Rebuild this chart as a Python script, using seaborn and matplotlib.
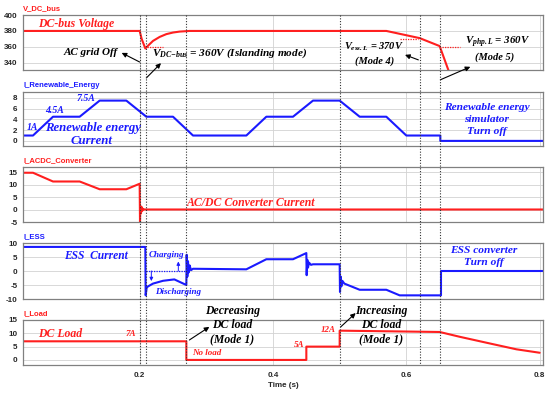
import matplotlib
matplotlib.use("Agg")
import matplotlib.pyplot as plt
import seaborn as sns
from matplotlib.lines import Line2D
from matplotlib.transforms import blended_transform_factory

# ---------------- data ----------------
panel_titles = ["V_DC_bus", "I_Renewable_Energy", "I_ACDC_Converter", "I_ESS", "I_Load"]

t_vdc = [0.025, 0.200, 0.203, 0.2085, 0.212, 0.220, 0.230, 0.240, 0.250, 0.260, 0.275,
         0.570, 0.620, 0.650, 0.663, 0.700]
v_dc = [380, 380, 370, 358, 361, 367.5, 372.5, 376, 378, 379.2, 380,
        380, 371, 361, 331, 280]

t_re = [0.025, 0.04, 0.07, 0.11, 0.14, 0.18, 0.21, 0.25, 0.28, 0.36, 0.39, 0.43,
        0.46, 0.50, 0.53, 0.57, 0.60, 0.651, 0.651, 0.805]
i_re = [1, 1, 4.5, 4.5, 7.5, 7.5, 4.5, 4.5, 1, 1, 4.5, 4.5,
        7.5, 7.5, 4.5, 4.5, 1, 1, 0, 0]

t_ac = [0.025, 0.04, 0.07, 0.11, 0.14, 0.18, 0.200, 0.2005, 0.201, 0.202, 0.203,
        0.204, 0.205, 0.207, 0.210, 0.805]
i_ac = [14.7, 14.7, 11.2, 11.2, 8.1, 8.1, 10.3, -5, 1.5, -1.5, 1.0,
        -0.5, 0.3, 0, 0, 0]

t_es = [0.025, 0.2085, 0.209, 0.2105, 0.2125, 0.220, 0.235, 0.252, 0.270,
        0.2705, 0.2715, 0.2725, 0.2735, 0.275, 0.277, 0.280, 0.360, 0.390, 0.430,
        0.450, 0.4505, 0.4515, 0.4525, 0.454, 0.457, 0.460, 0.500,
        0.5005, 0.5015, 0.5025, 0.504, 0.507, 0.530, 0.570, 0.590, 0.652, 0.652, 0.805]
i_es = [8.6, 8.6, -8.7, -6.0, -5.5, -4.5, -3.5, -3.0, -5.0,
        5.8, -2.0, 3.5, -0.5, 2.0, 0.3, 0.8, 0.6, 4.2, 4.2,
        6.4, -1.5, 4.0, 1.2, 3.0, 2.2, 2.4, 2.4,
        -7.5, -2.0, -5.5, -3.5, -4.5, -6.7, -6.7, -8.7, -8.7, 0, 0]

t_ld = [0.025, 0.27, 0.27, 0.45, 0.45, 0.50, 0.50, 0.65, 0.68, 0.725, 0.765, 0.80]
i_ld = [7, 7, 0, 0, 5, 5, 11, 10.5, 8.7, 6.2, 4.0, 2.7]

event_times = [0.200, 0.209, 0.270, 0.500, 0.620, 0.650]

y_ticks = [[340, 360, 380, 400], [0, 2, 4, 6, 8], [-5, 0, 5, 10, 15],
           [-10, -5, 0, 5, 10], [0, 5, 10, 15]]
y_lims = [(331, 400), (-0.95, 9.1), (-5, 17), (-10, 10), (-1.9, 15)]
x_ticks = [0.2, 0.4, 0.6, 0.8]

# reference (dotted) levels: (t0, t1, level)
vdc_refs = [(0.211, 0.235, 360), (0.590, 0.618, 370), (0.653, 0.680, 360)]
ess_ref = (0.210, 0.270, 0)

# ---------------- style ----------------
sns.set_style("white")
plt.rcParams['font.family'] = ['Liberation Sans', 'DejaVu Sans']
plt.rcParams['mathtext.fontset'] = 'custom'
plt.rcParams['mathtext.rm'] = 'Liberation Serif:bold:italic'
plt.rcParams['mathtext.it'] = 'Liberation Serif:bold:italic'
plt.rcParams['mathtext.bf'] = 'Liberation Serif:bold:italic'

RED = '#ff1f1f'
BLUE = '#1a1aff'
SERIF = dict(family='Liberation Serif', weight='bold', style='italic')

fig = plt.figure(figsize=(5.5, 3.93), dpi=100)
W_PX, H_PX = 550, 393


def px_axes(top, bottom, left=23, right=543):
    return [left / W_PX, 1 - bottom / H_PX, (right - left) / W_PX, (bottom - top) / H_PX]


boxes = [(15, 70), (92, 146), (167, 222), (243, 299), (320, 365)]
axes = [fig.add_axes(px_axes(a, b)) for a, b in boxes]
title_colors = [RED, BLUE, RED, BLUE, RED]

series = [(t_vdc, v_dc, RED), (t_re, i_re, BLUE), (t_ac, i_ac, RED),
          (t_es, i_es, BLUE), (t_ld, i_ld, RED)]

for i, (ax, (tx, ty, col)) in enumerate(zip(axes, series)):
    sns.lineplot(x=tx, y=ty, ax=ax, color=col, lw=1.5, sort=False, estimator=None)
    ax.set_xlim(0.025, 0.805)
    ax.set_ylim(*y_lims[i])
    ax.set_yticks(y_ticks[i], labels=[str(v) for v in y_ticks[i]],
                  fontsize=5.8, fontweight='bold')
    ax.set_xticks(x_ticks)
    if i < 4:
        ax.set_xticklabels([])
    else:
        ax.set_xticklabels([f"{v:.1f}" for v in x_ticks], fontsize=5.8, fontweight='bold')
        ax.set_xlabel("Time (s)", fontsize=5.8, fontweight='bold', labelpad=2)
    ax.tick_params(axis='y', length=0, pad=4)
    ax.tick_params(axis='x', length=0, pad=5)
    ax.grid(True, color='#d2d2d2', lw=0.6)
    ax.set_ylabel("")
    for sp in ax.spines.values():
        sp.set_color('#808080')
        sp.set_linewidth(0.9)
    ax.set_title(panel_titles[i], loc='left', fontsize=5.5, fontweight='bold',
                 color=title_colors[i], pad=3.5)

ax1, ax2, ax3, ax4, ax5 = axes

# event lines spanning all panels
tr = blended_transform_factory(ax5.transData, fig.transFigure)
for te in event_times:
    fig.add_artist(Line2D([te, te], [1 - 15 / H_PX, 1 - 365 / H_PX], transform=tr,
                          color='#333333', lw=0.8, ls=(0, (1, 1.5))))

# dotted reference levels
for t0, t1, lv in vdc_refs:
    ax1.plot([t0, t1], [lv, lv], color=RED, lw=0.9, ls=(0, (1, 1)))
ax4.plot([ess_ref[0], ess_ref[1]], [ess_ref[2]] * 2, color=BLUE, lw=0.9, ls=(0, (1, 1)))

ARW = dict(arrowstyle='-|>', color='black', lw=0.8, mutation_scale=7, shrinkA=0, shrinkB=0)


def arrow(ax, head, tail, **kw):
    p = dict(ARW)
    p.update(kw)
    ax.annotate('', xy=head, xytext=tail, arrowprops=p, annotation_clip=False)


# ---- panel 1 annotations
ax1.text(0.048, 388.7, "DC-bus Voltage", color=RED, fontsize=8.5, va='center', ha='left', **SERIF)
ax1.text(0.127, 352.5, "AC grid Off", color='black', fontsize=8, va='center', ha='center', **SERIF)
arrow(ax1, (0.173, 352.5), (0.200, 341))
ax1.text(0.219, 352.5, r"$V_{DC{-}bus}$ = 360V (Islanding mode)", color='black', fontsize=8.1,
         va='center', ha='left', **SERIF)
arrow(ax1, (0.232, 339.6), (0.210, 321))
ax1.text(0.552, 360, r"$V_{ess.L}$ = 370V", color='black', fontsize=7.5, va='center', ha='center', **SERIF)
ax1.text(0.552, 341.5, "(Mode 4)", color='black', fontsize=7.5, va='center', ha='center', **SERIF)
arrow(ax1, (0.598, 350), (0.618, 343.7))
ax1.text(0.737, 366, r"$V_{php.L}$ = 360V", color='black', fontsize=7.8, va='center', ha='center', **SERIF)
ax1.text(0.733, 347.5, "(Mode 5)", color='black', fontsize=7.5, va='center', ha='center', **SERIF)
arrow(ax1, (0.696, 335), (0.651, 318.7))

# ---- panel 2 annotations
ax2.text(0.031, 2.5, "1A", color=BLUE, fontsize=7, va='center', ha='left', **SERIF)
ax2.text(0.073, 5.6, "4.5A", color=BLUE, fontsize=7, va='center', ha='center', **SERIF)
ax2.text(0.120, 7.8, "7.5A", color=BLUE, fontsize=7, va='center', ha='center', **SERIF)
ax2.text(0.1306, 2.4, "Renewable energy", color=BLUE, fontsize=9.2, va='center', ha='center', **SERIF)
ax2.text(0.128, 0.0, "Current", color=BLUE, fontsize=9.2, va='center', ha='center', **SERIF)
ax2.text(0.720, 4.0, "Renewable energy\nsimulator\nTurn off", color=BLUE, fontsize=8.2,
         va='center', ha='center', linespacing=1.45, **SERIF)

# ---- panel 3 annotations
ax3.text(0.270, 2.6, "AC/DC Converter Current", color=RED, fontsize=8.5, va='center', ha='left', **SERIF)

# ---- panel 4 annotations
ax4.text(0.135, 5.4, "ESS  Current", color=BLUE, fontsize=8.3, va='center', ha='center', **SERIF)
ax4.text(0.2395, 5.8, "Charging", color=BLUE, fontsize=6.5, va='center', ha='center', **SERIF)
ax4.text(0.258, -7.6, "Discharging", color=BLUE, fontsize=6.5, va='center', ha='center', **SERIF)
arrow(ax4, (0.2175, -3.6), (0.2175, 0), color=BLUE, lw=0.7, mutation_scale=5)
arrow(ax4, (0.258, 3.4), (0.258, 0), color=BLUE, lw=0.7, mutation_scale=5)
ax4.text(0.716, 5.1, "ESS converter\nTurn off", color=BLUE, fontsize=8.2, va='center', ha='center',
         linespacing=1.5, **SERIF)

# ---- panel 5 annotations
ax5.text(0.048, 9.75, "DC Load", color=RED, fontsize=8.5, va='center', ha='left', **SERIF)
ax5.text(0.1866, 9.75, "7A", color=RED, fontsize=6.5, va='center', ha='center', **SERIF)
ax5.text(0.278, 2.6, "No load", color=RED, fontsize=6.5, va='center', ha='left', **SERIF)
ax5.text(0.339, 13.1, "Decreasing\nDC load\n(Mode 1)", color='black', fontsize=8.5, va='center',
         ha='center', linespacing=1.2, **SERIF)
arrow(ax5, (0.3045, 12.4), (0.2746, 7.5))
ax5.text(0.5627, 13.1, "Increasing\nDC load\n(Mode 1)", color='black', fontsize=8.5, va='center',
         ha='center', linespacing=1.2, **SERIF)
arrow(ax5, (0.524, 17.6), (0.5015, 12.4))
ax5.text(0.439, 5.6, "5A", color=RED, fontsize=6.5, va='center', ha='center', **SERIF)
ax5.text(0.4836, 11.25, "12A", color=RED, fontsize=6.5, va='center', ha='center', **SERIF)

fig.savefig("out.png", dpi=100)
